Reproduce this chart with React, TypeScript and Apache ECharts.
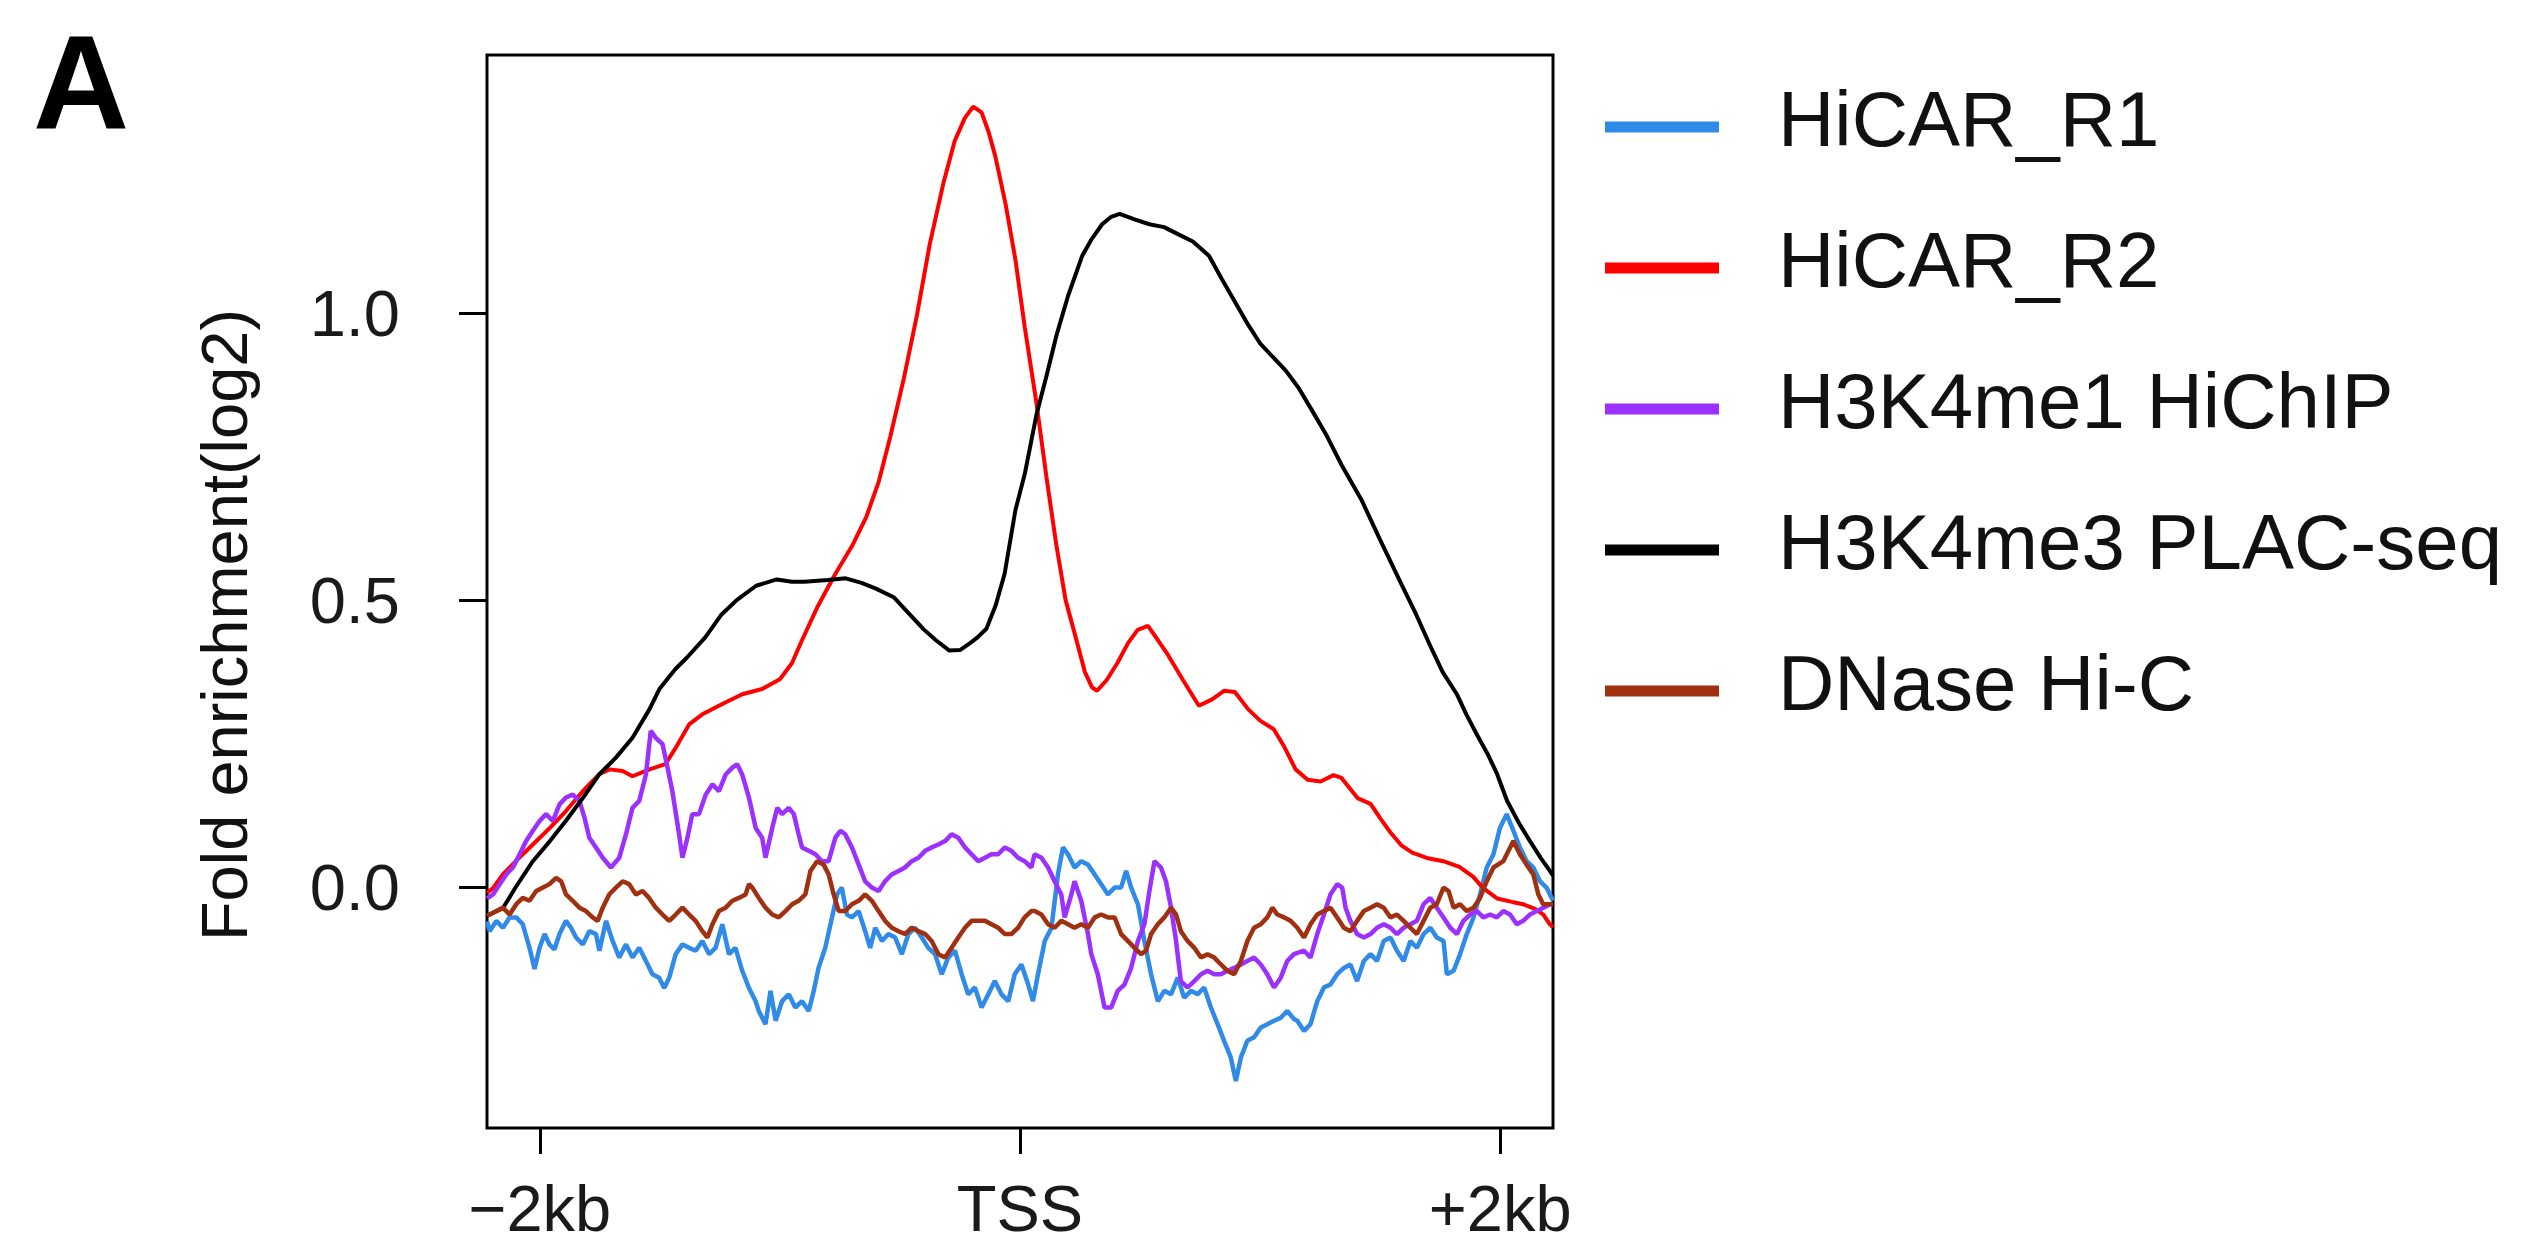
import React, { useEffect, useRef } from "react";
import * as echarts from "echarts";

// ---------- data ----------
const seriesNames = ["HiCAR_R1", "HiCAR_R2", "H3K4me1 HiChIP", "H3K4me3 PLAC-seq", "DNase Hi-C"];
const seriesColors = ["#2f8ae8", "#ff0000", "#9b30ff", "#000000", "#a0300f"];

const xTickValues = [-2000, 0, 2000];
const xTickLabels = ["\u22122kb", "TSS", "+2kb"];
const yTickValues = [0, 0.5, 1.0];
const xRange = [-2220, 2220];
const yRange = [-0.42, 1.45];

const hicarR1: number[][] = [
  [-2220, -0.06], [-2209, -0.077], [-2181, -0.059], [-2154, -0.071], [-2126, -0.053], [-2098, -0.053],
  [-2071, -0.065], [-2043, -0.106], [-2022, -0.143], [-2001, -0.106], [-1980, -0.082], [-1960, -0.1],
  [-1939, -0.109], [-1918, -0.082], [-1891, -0.059], [-1870, -0.071], [-1849, -0.088], [-1821, -0.1],
  [-1794, -0.077], [-1766, -0.082], [-1752, -0.111], [-1724, -0.059], [-1697, -0.094], [-1669, -0.123],
  [-1641, -0.1], [-1614, -0.123], [-1586, -0.106], [-1558, -0.129], [-1531, -0.152], [-1503, -0.158],
  [-1482, -0.176], [-1461, -0.158], [-1434, -0.117], [-1406, -0.1], [-1378, -0.106], [-1351, -0.111],
  [-1323, -0.094], [-1295, -0.117], [-1268, -0.106], [-1240, -0.065], [-1212, -0.117], [-1185, -0.106],
  [-1157, -0.146], [-1129, -0.176], [-1101, -0.199], [-1088, -0.216], [-1060, -0.239], [-1039, -0.181],
  [-1018, -0.233], [-991, -0.199], [-963, -0.187], [-936, -0.21], [-908, -0.199], [-880, -0.216],
  [-859, -0.181], [-839, -0.141], [-811, -0.106], [-783, -0.053], [-762, -0.013], [-742, -0.001],
  [-721, -0.048], [-700, -0.053], [-672, -0.042], [-645, -0.077], [-624, -0.106], [-603, -0.071],
  [-575, -0.094], [-548, -0.082], [-520, -0.088], [-492, -0.117], [-465, -0.082], [-437, -0.071],
  [-409, -0.088], [-382, -0.106], [-354, -0.117], [-326, -0.152], [-299, -0.123], [-271, -0.111],
  [-243, -0.152], [-216, -0.187], [-188, -0.175], [-160, -0.21], [-132, -0.187], [-105, -0.164],
  [-77, -0.187], [-49, -0.199], [-22, -0.152], [6, -0.135], [34, -0.17], [54, -0.199], [75, -0.152],
  [103, -0.094], [131, -0.071], [158, 0.022], [179, 0.069], [200, 0.057], [227, 0.034], [255, 0.045],
  [283, 0.039], [311, 0.022], [338, 0.005], [366, -0.013], [394, -0.001], [421, -0.001], [442, 0.028],
  [463, -0.001], [491, -0.03], [518, -0.094], [546, -0.152], [574, -0.199], [601, -0.181], [629, -0.187],
  [657, -0.158], [684, -0.193], [712, -0.181], [740, -0.187], [767, -0.175], [795, -0.21], [823, -0.239],
  [850, -0.268], [878, -0.297], [899, -0.338], [920, -0.297], [947, -0.268], [975, -0.262], [1003, -0.245],
  [1030, -0.239], [1058, -0.233], [1086, -0.228], [1113, -0.216], [1141, -0.23], [1155, -0.233],
  [1183, -0.251], [1210, -0.239], [1238, -0.199], [1266, -0.175], [1293, -0.17], [1321, -0.152],
  [1349, -0.141], [1376, -0.135], [1404, -0.164], [1432, -0.129], [1460, -0.117], [1487, -0.129],
  [1515, -0.094], [1543, -0.088], [1570, -0.111], [1598, -0.129], [1626, -0.094], [1653, -0.106],
  [1681, -0.082], [1709, -0.071], [1736, -0.088], [1764, -0.094], [1778, -0.152], [1806, -0.146],
  [1833, -0.117], [1861, -0.082], [1889, -0.053], [1916, -0.013], [1944, 0.034], [1972, 0.057],
  [1999, 0.103], [2027, 0.127], [2055, 0.098], [2082, 0.069], [2110, 0.045], [2138, 0.034],
  [2166, 0.01], [2193, -0.001], [2220, -0.024],
];

const hicarR2: number[][] = [
  [-2220, -0.01], [-2195, -0.002], [-2154, 0.022], [-2100, 0.045], [-2029, 0.074], [-1958, 0.103],
  [-1892, 0.132], [-1821, 0.167], [-1751, 0.197], [-1709, 0.205], [-1655, 0.202], [-1614, 0.193],
  [-1543, 0.205], [-1477, 0.214], [-1435, 0.242], [-1377, 0.284], [-1323, 0.301], [-1240, 0.319],
  [-1157, 0.336], [-1074, 0.345], [-1000, 0.362], [-950, 0.39], [-908, 0.43], [-845, 0.487],
  [-770, 0.545], [-696, 0.597], [-640, 0.645], [-588, 0.707], [-540, 0.785], [-484, 0.886],
  [-430, 0.995], [-376, 1.12], [-320, 1.225], [-272, 1.3], [-230, 1.34], [-195, 1.36], [-160, 1.35],
  [-130, 1.315], [-102, 1.272], [-60, 1.19], [-19, 1.093], [20, 0.975], [68, 0.845], [110, 0.715],
  [151, 0.597], [190, 0.5], [234, 0.432], [270, 0.375], [300, 0.348], [321, 0.342], [360, 0.36],
  [405, 0.39], [450, 0.425], [490, 0.448], [533, 0.455], [575, 0.43], [617, 0.404], [680, 0.36],
  [745, 0.316], [800, 0.327], [850, 0.342], [895, 0.34], [950, 0.31], [1000, 0.29], [1057, 0.275],
  [1100, 0.245], [1148, 0.205], [1198, 0.187], [1252, 0.184], [1306, 0.195], [1339, 0.19],
  [1406, 0.155], [1460, 0.145], [1500, 0.12], [1543, 0.095], [1590, 0.072], [1634, 0.06],
  [1700, 0.05], [1763, 0.045], [1830, 0.035], [1887, 0.018], [1929, -0.002], [1987, -0.02],
  [2050, -0.026], [2095, -0.03], [2145, -0.038], [2180, -0.048], [2207, -0.065], [2220, -0.07],
];

const h3k4me1: number[][] = [
  [-2220, -0.02], [-2195, -0.013], [-2167, 0.005], [-2140, 0.022], [-2112, 0.034], [-2084, 0.057],
  [-2057, 0.08], [-2029, 0.098], [-2001, 0.115], [-1974, 0.127], [-1946, 0.115], [-1918, 0.144],
  [-1891, 0.156], [-1863, 0.161], [-1835, 0.15], [-1814, 0.121], [-1794, 0.086], [-1766, 0.069],
  [-1738, 0.051], [-1704, 0.034], [-1669, 0.051], [-1641, 0.092], [-1614, 0.138], [-1586, 0.15],
  [-1558, 0.196], [-1538, 0.272], [-1517, 0.26], [-1489, 0.249], [-1468, 0.208], [-1448, 0.167],
  [-1420, 0.092], [-1406, 0.051], [-1385, 0.086], [-1365, 0.127], [-1337, 0.127], [-1309, 0.161],
  [-1281, 0.179], [-1254, 0.167], [-1226, 0.196], [-1198, 0.208], [-1178, 0.214], [-1157, 0.196],
  [-1129, 0.156], [-1101, 0.103], [-1074, 0.086], [-1060, 0.051], [-1032, 0.103], [-1011, 0.138],
  [-991, 0.127], [-963, 0.138], [-942, 0.127], [-922, 0.092], [-908, 0.069], [-880, 0.063],
  [-852, 0.057], [-825, 0.045], [-797, 0.045], [-769, 0.086], [-748, 0.098], [-728, 0.092],
  [-700, 0.069], [-672, 0.039], [-645, 0.01], [-617, -0.001], [-589, -0.007], [-562, 0.01],
  [-534, 0.022], [-506, 0.028], [-479, 0.034], [-451, 0.045], [-423, 0.051], [-395, 0.063],
  [-368, 0.069], [-340, 0.074], [-312, 0.08], [-285, 0.092], [-257, 0.086], [-229, 0.069],
  [-202, 0.057], [-174, 0.045], [-146, 0.051], [-119, 0.057], [-91, 0.057], [-63, 0.069],
  [-36, 0.063], [-8, 0.051], [19, 0.045], [47, 0.034], [61, 0.057], [89, 0.051], [117, 0.034],
  [144, 0.01], [172, -0.013], [186, -0.053], [214, -0.013], [227, 0.01], [255, -0.024], [283, -0.082],
  [297, -0.117], [324, -0.152], [352, -0.21], [380, -0.21], [407, -0.181], [435, -0.17], [463, -0.141],
  [491, -0.094], [518, -0.065], [539, -0.007], [560, 0.045], [587, 0.034], [608, 0.01], [629, -0.036],
  [650, -0.094], [670, -0.164], [698, -0.175], [726, -0.164], [754, -0.152], [781, -0.146],
  [809, -0.152], [837, -0.152], [864, -0.146], [892, -0.141], [920, -0.135], [947, -0.129],
  [975, -0.123], [1003, -0.135], [1030, -0.152], [1058, -0.175], [1086, -0.158], [1113, -0.129],
  [1141, -0.117], [1183, -0.111], [1210, -0.123], [1238, -0.082], [1266, -0.048], [1293, -0.013],
  [1321, 0.005], [1342, -0.001], [1356, -0.036], [1376, -0.059], [1404, -0.082], [1432, -0.088],
  [1460, -0.082], [1487, -0.071], [1515, -0.065], [1543, -0.071], [1570, -0.082], [1598, -0.071],
  [1626, -0.065], [1653, -0.059], [1681, -0.03], [1709, -0.019], [1736, -0.036], [1764, -0.053],
  [1792, -0.071], [1820, -0.082], [1847, -0.059], [1875, -0.048], [1903, -0.042], [1930, -0.053],
  [1958, -0.048], [1986, -0.053], [2013, -0.042], [2041, -0.048], [2069, -0.065], [2096, -0.059],
  [2124, -0.048], [2152, -0.042], [2180, -0.036], [2207, -0.03], [2220, -0.03],
];

const h3k4me3: number[][] = [
  [-2220, -0.05], [-2154, -0.037], [-2100, 0.0], [-2029, 0.045], [-1958, 0.08], [-1892, 0.115],
  [-1821, 0.155], [-1751, 0.197], [-1684, 0.225], [-1614, 0.26], [-1543, 0.31], [-1502, 0.345],
  [-1435, 0.38], [-1387, 0.4], [-1311, 0.435], [-1243, 0.475], [-1180, 0.5], [-1099, 0.525],
  [-1013, 0.536], [-950, 0.532], [-898, 0.532], [-800, 0.535], [-726, 0.538], [-660, 0.53],
  [-600, 0.52], [-526, 0.505], [-470, 0.48], [-401, 0.449], [-350, 0.43], [-294, 0.412],
  [-250, 0.413], [-208, 0.425], [-177, 0.435], [-140, 0.45], [-102, 0.49], [-64, 0.546],
  [-19, 0.657], [20, 0.72], [68, 0.822], [110, 0.89], [151, 0.96], [200, 1.03], [259, 1.1],
  [300, 1.13], [342, 1.155], [380, 1.168], [415, 1.173], [480, 1.163], [539, 1.155], [600, 1.15],
  [662, 1.137], [720, 1.125], [787, 1.1], [840, 1.06], [895, 1.02], [950, 0.98], [999, 0.948],
  [1050, 0.925], [1107, 0.9], [1160, 0.87], [1210, 0.835], [1273, 0.79], [1340, 0.735],
  [1422, 0.675], [1500, 0.605], [1592, 0.525], [1650, 0.475], [1709, 0.42], [1760, 0.375],
  [1821, 0.335], [1860, 0.3], [1904, 0.265], [1950, 0.23], [1987, 0.197], [2029, 0.15],
  [2080, 0.11], [2124, 0.08], [2170, 0.05], [2207, 0.028], [2220, 0.02],
];

const dnaseHiC: number[][] = [
  [-2220, -0.05], [-2209, -0.048], [-2181, -0.042], [-2154, -0.036], [-2126, -0.048], [-2098, -0.03],
  [-2071, -0.019], [-2043, -0.024], [-2015, -0.007], [-1987, -0.001], [-1960, 0.005], [-1932, 0.016],
  [-1911, 0.01], [-1891, -0.013], [-1863, -0.024], [-1835, -0.036], [-1808, -0.042], [-1780, -0.053],
  [-1759, -0.059], [-1738, -0.036], [-1711, -0.013], [-1683, -0.001], [-1655, 0.01], [-1628, 0.005],
  [-1600, -0.013], [-1572, -0.007], [-1545, -0.019], [-1517, -0.036], [-1489, -0.048], [-1461, -0.059],
  [-1434, -0.048], [-1406, -0.036], [-1378, -0.048], [-1351, -0.059], [-1323, -0.077], [-1302, -0.088],
  [-1281, -0.065], [-1254, -0.042], [-1226, -0.036], [-1198, -0.024], [-1171, -0.019], [-1143, -0.013],
  [-1129, 0.005], [-1115, -0.001], [-1088, -0.019], [-1060, -0.036], [-1032, -0.048], [-1005, -0.053],
  [-977, -0.042], [-949, -0.03], [-922, -0.024], [-894, -0.013], [-873, 0.028], [-845, 0.045],
  [-818, 0.039], [-797, 0.022], [-776, -0.013], [-755, -0.042], [-728, -0.042], [-700, -0.03],
  [-672, -0.024], [-645, -0.013], [-617, -0.024], [-589, -0.042], [-562, -0.059], [-534, -0.071],
  [-506, -0.077], [-479, -0.082], [-451, -0.071], [-423, -0.077], [-395, -0.082], [-368, -0.094],
  [-340, -0.117], [-312, -0.123], [-285, -0.106], [-257, -0.088], [-229, -0.071], [-202, -0.059],
  [-174, -0.059], [-146, -0.059], [-119, -0.065], [-91, -0.071], [-63, -0.082], [-36, -0.082],
  [-8, -0.071], [19, -0.053], [47, -0.042], [61, -0.042], [89, -0.048], [117, -0.065], [144, -0.071],
  [172, -0.059], [200, -0.065], [227, -0.071], [255, -0.065], [283, -0.071], [311, -0.053],
  [338, -0.048], [366, -0.053], [394, -0.053], [421, -0.082], [449, -0.094], [477, -0.106],
  [504, -0.117], [525, -0.111], [546, -0.082], [574, -0.065], [601, -0.053], [629, -0.036],
  [650, -0.048], [670, -0.077], [698, -0.094], [726, -0.106], [754, -0.123], [781, -0.117],
  [809, -0.123], [837, -0.135], [864, -0.146], [892, -0.152], [920, -0.129], [947, -0.094],
  [975, -0.071], [1003, -0.065], [1030, -0.053], [1051, -0.036], [1072, -0.048], [1100, -0.053],
  [1127, -0.059], [1155, -0.071], [1183, -0.088], [1210, -0.065], [1238, -0.048], [1266, -0.042],
  [1293, -0.036], [1321, -0.053], [1349, -0.071], [1376, -0.077], [1404, -0.059], [1432, -0.042],
  [1460, -0.036], [1487, -0.03], [1515, -0.036], [1543, -0.053], [1570, -0.048], [1598, -0.059],
  [1626, -0.071], [1653, -0.082], [1681, -0.059], [1709, -0.036], [1736, -0.03], [1764, -0.001],
  [1785, -0.007], [1806, -0.036], [1833, -0.03], [1861, -0.042], [1889, -0.036], [1916, -0.019],
  [1944, 0.01], [1972, 0.034], [2013, 0.045], [2055, 0.08], [2082, 0.057], [2110, 0.039],
  [2138, 0.022], [2159, -0.013], [2179, -0.03], [2207, -0.03], [2220, -0.03],
];

const seriesData = [hicarR1, hicarR2, h3k4me1, h3k4me3, dnaseHiC];

// ---------- layout ----------
const W = 2531;
const H = 1247;
const FONT = "Liberation Sans";

export default function App() {
  const ref = useRef<HTMLDivElement>(null);

  useEffect(() => {
    if (!ref.current) return;
    const chart = echarts.init(ref.current, undefined, { renderer: "svg" });

    const legendTop = 127;
    const legendStep = 141;
    const legendGraphics: any[] = [];
    seriesNames.forEach((name, i) => {
      const y = legendTop + i * legendStep;
      legendGraphics.push({
        type: "line",
        shape: { x1: 1605, y1: y, x2: 1719, y2: y },
        style: { stroke: seriesColors[i], lineWidth: 11 },
      });
      legendGraphics.push({
        type: "text",
        x: 1778,
        y: y - 8,
        style: {
          text: name,
          fill: "#111",
          fontSize: 78,
          fontFamily: FONT,
          align: "left",
          verticalAlign: "middle",
          textAlign: "left",
          textVerticalAlign: "middle",
        },
      });
    });

    const option: any = {
      animation: false,
      backgroundColor: "#ffffff",
      grid: {
        left: 487,
        right: W - 1553,
        top: 55,
        bottom: H - 1128,
        show: true,
        borderColor: "#000",
        borderWidth: 3,
        backgroundColor: "transparent",
      },
      xAxis: {
        type: "value",
        min: xRange[0],
        max: xRange[1],
        axisLine: { show: false, onZero: false },
        splitLine: { show: false },
        axisTick: {
          show: true,
          inside: false,
          length: 26,
          lineStyle: { color: "#000", width: 3 },
          customValues: xTickValues,
        },
        axisLabel: {
          show: true,
          customValues: xTickValues,
          margin: 80,
          verticalAlign: "middle",
          fontSize: 65,
          fontFamily: FONT,
          color: "#1a1a1a",
          formatter: (v: number) => {
            const idx = xTickValues.indexOf(v);
            return idx >= 0 ? xTickLabels[idx] : "";
          },
        },
      },
      yAxis: {
        type: "value",
        min: yRange[0],
        max: yRange[1],
        axisLine: { show: false, onZero: false },
        splitLine: { show: false },
        axisTick: {
          show: true,
          inside: false,
          length: 28,
          lineStyle: { color: "#000", width: 3 },
          customValues: yTickValues,
        },
        axisLabel: {
          show: true,
          customValues: yTickValues,
          margin: 87,
          fontSize: 65,
          fontFamily: FONT,
          color: "#1a1a1a",
          formatter: (v: number) => v.toFixed(1),
        },
      },
      series: seriesNames.map((name, i) => ({
        name,
        type: "line",
        data: seriesData[i],
        showSymbol: false,
        symbol: "none",
        smooth: false,
        clip: true,
        lineStyle: { color: seriesColors[i], width: i === 1 || i === 3 ? 4 : 4.5 },
        itemStyle: { color: seriesColors[i] },
        z: 2 + i,
      })),
      graphic: [
        {
          type: "text",
          x: 33,
          y: 83,
          style: {
            text: "A",
            fill: "#000",
            fontSize: 133,
            fontWeight: "bold",
            fontFamily: FONT,
            align: "left",
            verticalAlign: "middle",
            textAlign: "left",
            textVerticalAlign: "middle",
          },
        },
        {
          type: "text",
          x: 224,
          y: 625,
          rotation: Math.PI / 2,
          style: {
            text: "Fold enrichment(log2)",
            fill: "#111",
            fontSize: 65,
            fontFamily: FONT,
            align: "center",
            verticalAlign: "middle",
            textAlign: "center",
            textVerticalAlign: "middle",
          },
        },
        ...legendGraphics,
      ],
    };

    chart.setOption(option);
    return () => {
      chart.dispose();
    };
  }, []);

  return (
    <div
      ref={ref}
      style={{ position: "fixed", left: 0, top: 0, width: W, height: H, background: "#fff" }}
    />
  );
}
